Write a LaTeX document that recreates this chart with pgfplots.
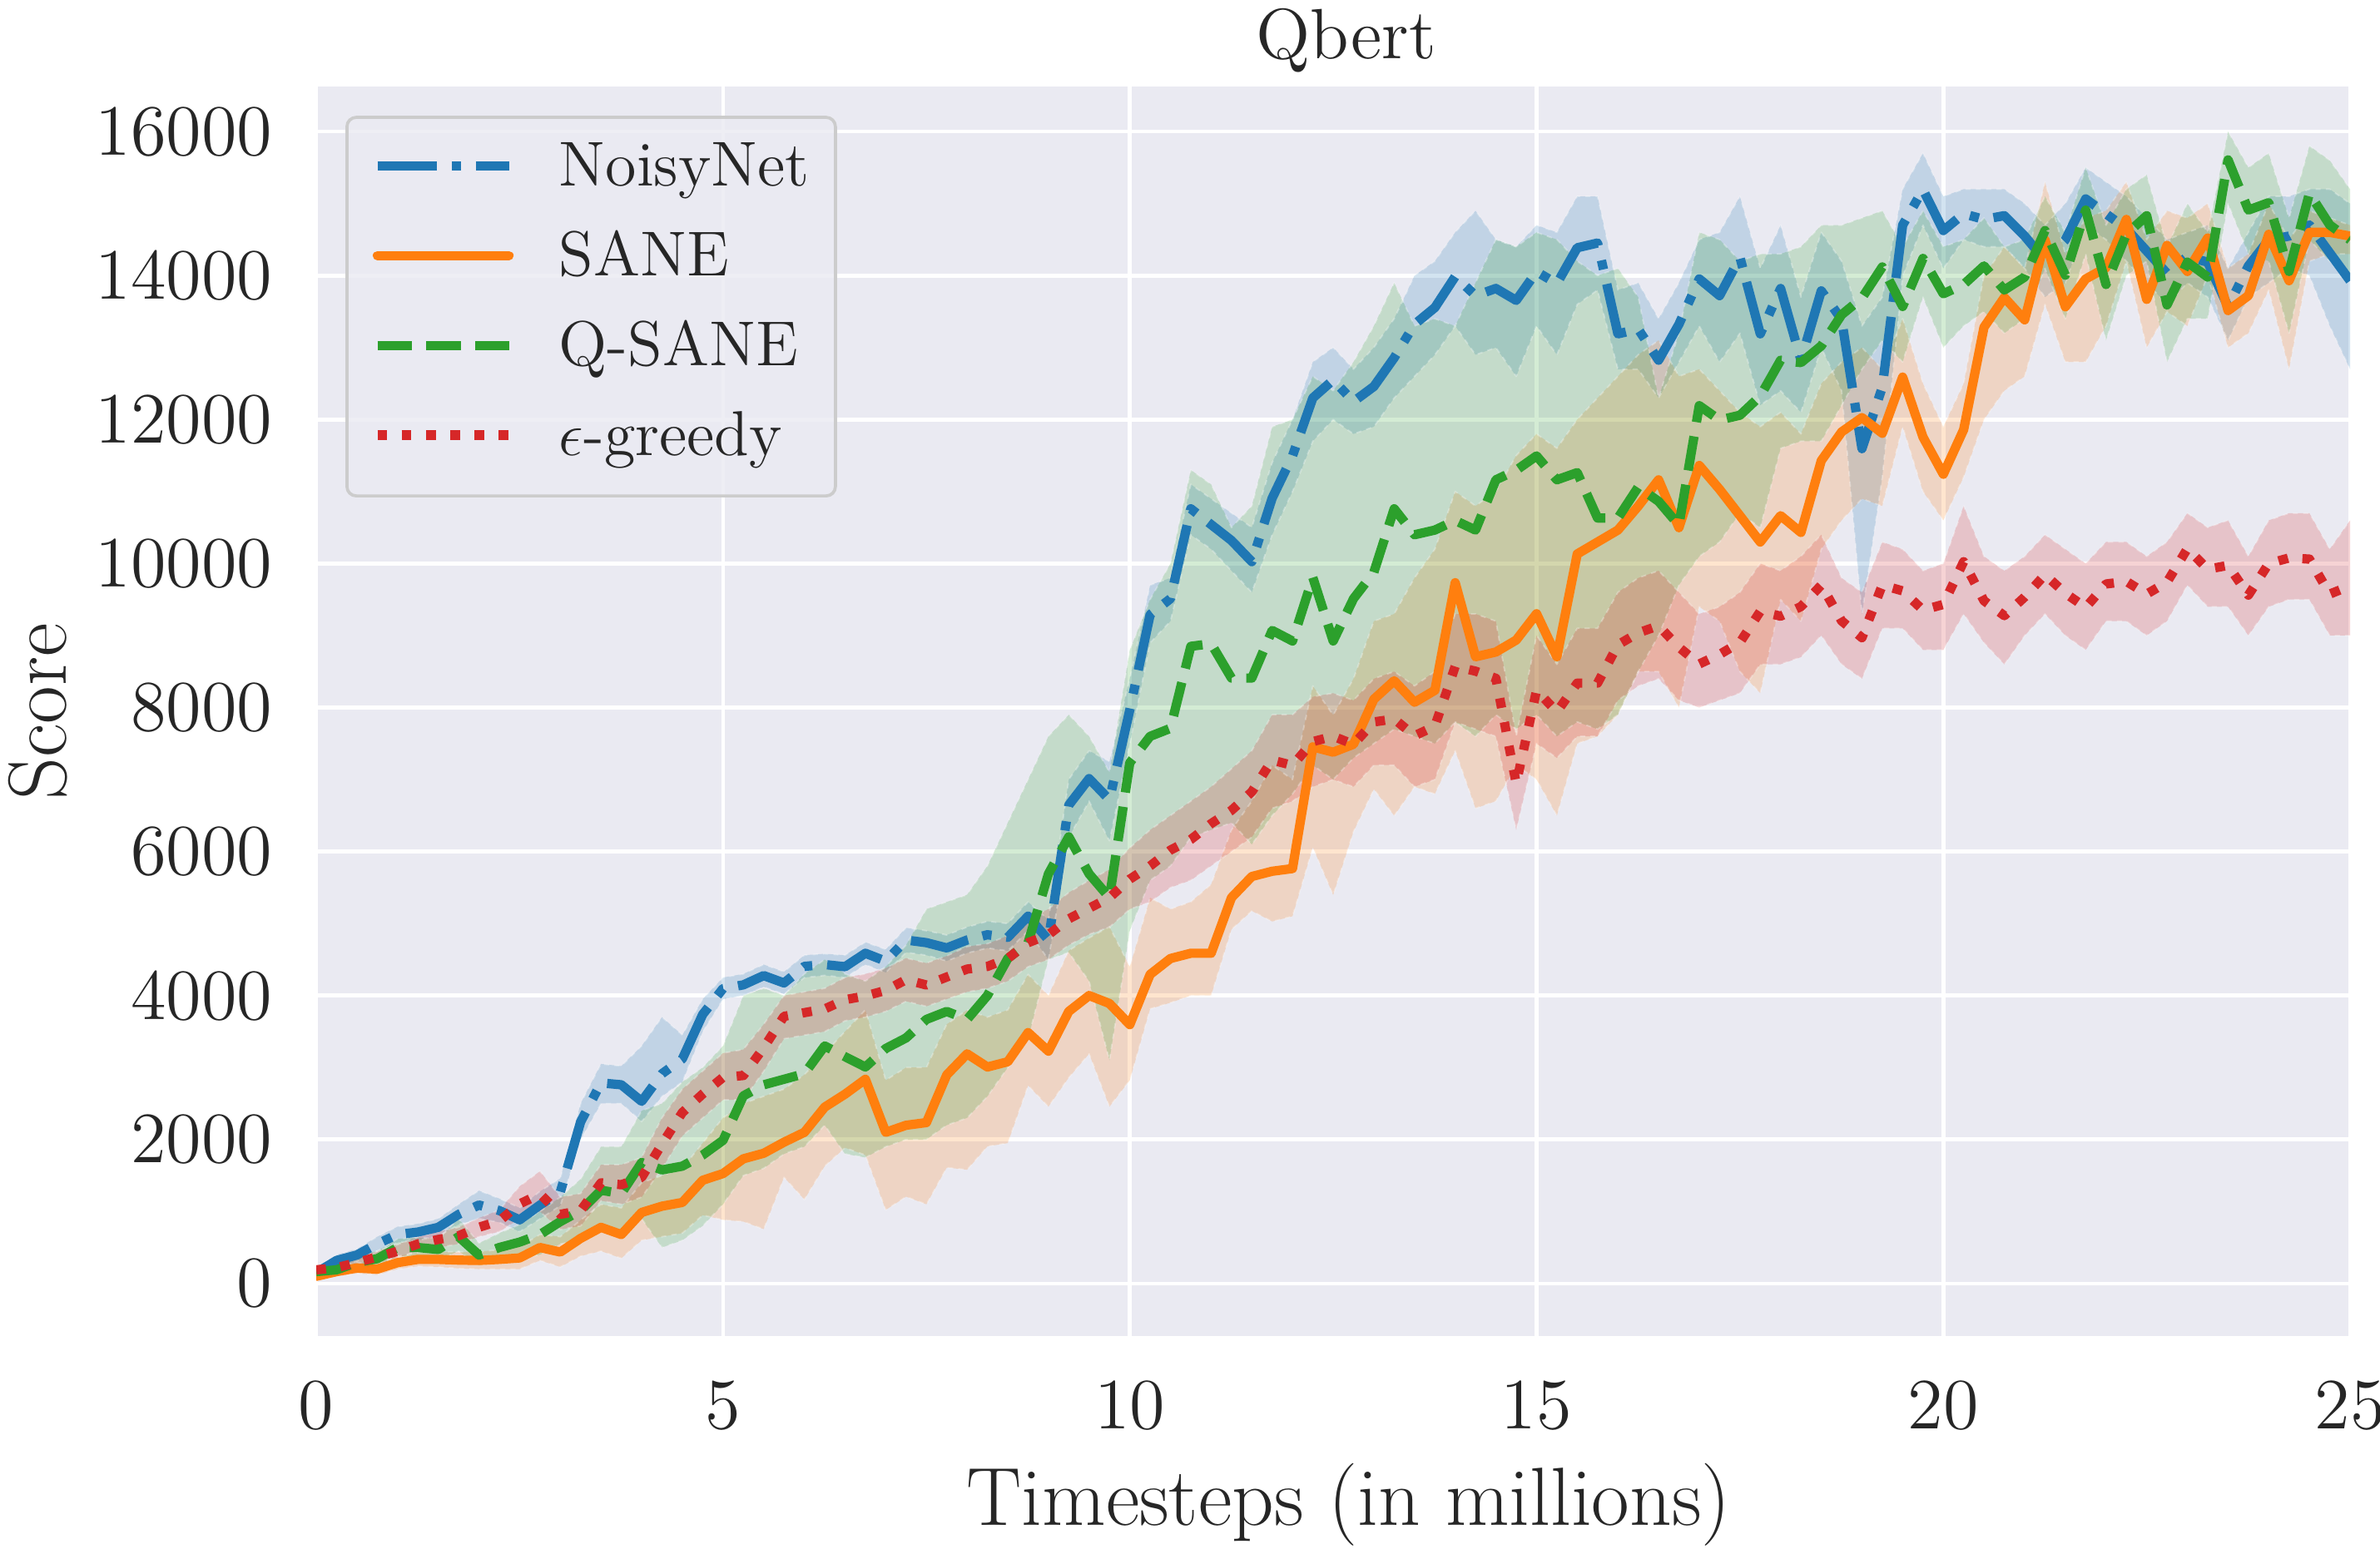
\documentclass[border=0pt]{standalone}
\usepackage{pgfplots}
\pgfplotsset{compat=1.18}
\usepgfplotslibrary{fillbetween}
\usepackage{pgfplotstable}
\definecolor{bg}{HTML}{EAEAF2}
\definecolor{cb}{HTML}{1F77B4}
\definecolor{co}{HTML}{FF7F0E}
\definecolor{cg}{HTML}{2CA02C}
\definecolor{cr}{HTML}{D62728}
\definecolor{txt}{HTML}{262626}
\definecolor{legb}{HTML}{CCCCCC}

\pgfplotstableread{
t m lo hi
0 150 80 220
0.25 320 240 400
0.5 396 310 480
0.75 550 450 650
1 680 570 790
1.25 715 600 830
1.5 780 660 900
1.75 960 820 1100
2 1090 900 1290
2.25 1013 850 1180
2.5 884 720 1050
2.75 1090 900 1280
3 1270 1080 1460
3.25 2246 2000 2500
3.5 2786 2500 3050
3.75 2760 2500 3020
4 2530 2250 3300
4.25 2914 2600 3700
4.5 3120 2800 3450
4.75 3737 3500 3950
5 4097 3950 4250
5.25 4148 4000 4300
5.5 4277 4120 4430
5.75 4174 4020 4330
6 4405 4250 4560
6.25 4430 4280 4580
6.5 4400 4250 4560
6.75 4587 4430 4740
7 4477 4320 4640
7.25 4771 4600 4940
7.5 4734 4560 4900
7.75 4661 4480 4840
8 4771 4590 4950
8.25 4844 4660 5030
8.5 4808 4620 5000
8.75 5102 4900 5300
9 4771 4500 5050
9.25 6645 6200 7000
9.5 7013 6700 7400
9.75 6719 6150 7250
10 7968 7500 8400
10.25 9291 8900 9700
10.5 9512 9200 9800
10.75 10761 10400 11100
11 10541 10200 10900
11.25 10320 9900 10700
11.5 10026 9600 10500
11.75 10908 10400 11400
12 11496 11000 12000
12.25 12300 11700 12800
12.5 12550 12000 13000
12.75 12250 11800 12700
13 12459 11900 13000
13.25 12858 12300 13400
13.5 13323 12600 14000
13.75 13555 12900 14200
14 13987 13300 14600
14.25 13721 12900 14900
14.5 13821 13000 14500
14.75 13655 12600 14400
15 14054 13300 14700
15.25 13888 12900 14600
15.5 14386 13600 15100
15.75 14452 13800 15100
16 13190 12700 13800
16.25 13256 12700 13900
16.5 12824 12300 13400
16.75 13323 12800 13900
17 13954 13300 14500
17.25 13721 12800 14600
17.5 14253 13200 15100
17.75 13190 12200 14100
18 13821 12400 14700
18.25 12824 12100 13700
18.5 13788 13000 14600
18.75 13389 12400 14200
19 11595 9300 13300
19.25 12450 11200 13700
19.5 14700 14000 15200
19.75 15194 14700 15700
20 14625 14100 15100
20.25 14858 14500 15200
20.5 14780 14400 15200
20.75 14832 14400 15200
21 14548 14100 15000
21.25 14212 13700 14700
21.5 14496 13900 15000
21.75 15065 14700 15500
22 14858 14500 15300
22.25 14651 14200 15100
22.5 14341 13900 14800
22.75 14031 13600 14500
23 14264 13900 14600
23.25 14186 13700 14700
23.5 13566 13100 14100
23.75 14134 13700 14600
24 14496 13900 15100
24.25 14548 14100 15100
24.5 14703 14000 15200
24.75 14315 13300 15200
25 13928 12700 15000
}\blueT

\pgfplotstableread{
t m lo hi
0 100 40 160
0.25 165 100 230
0.5 215 140 290
0.75 200 120 280
1 290 200 380
1.25 335 240 430
1.5 335 230 440
1.75 325 210 440
2 320 200 440
2.25 335 200 470
2.5 355 200 510
2.75 500 320 680
3 437 230 650
3.25 627 380 880
3.5 780 450 1100
3.75 680 350 1050
4 987 600 1400
4.25 1074 650 1500
4.5 1126 700 1600
4.75 1434 950 1950
5 1527 884 2300
5.25 1732 860 2500
5.5 1809 755 2600
5.75 1963 1475 2700
6 2100 1167 2900
6.25 2450 1630 3200
6.5 2630 1886 3500
6.75 2837 1784 3800
7 2100 1022 2823
7.25 2198 1206 3000
7.5 2235 1100 3000
7.75 2897 1610 3600
8 3190 1580 3800
8.25 3007 1904 3700
8.5 3080 1950 3800
8.75 3485 2750 4293
9 3227 2456 4000
9.25 3779 2860 4624
9.5 4000 3190 4800
9.75 3889 2456 4955
10 3595 2823 4400
10.25 4293 3815 5359
10.5 4514 3900 5200
10.75 4587 4000 5300
11 4587 4000 5543
11.25 5359 4918 6300
11.5 5653 5175 6700
11.75 5726 5028 7200
12 5763 5101 7000
12.25 7454 6057 8300
12.5 7380 5396 7895
12.75 7490 6278 8400
13 8115 6866 9200
13.25 8372 6498 9300
13.5 8073 6900 9800
13.75 8239 6800 10200
14 9735 7400 11000
14.25 8705 6600 10800
14.5 8771 6700 11000
14.75 8937 7200 11500
15 9303 7000 11800
15.25 8705 6500 11600
15.5 10133 7500 12000
15.75 10299 7600 12300
16 10465 7900 12600
16.25 10797 8500 12900
16.5 11163 8500 13100
16.75 10498 8000 12600
17 11362 9400 12700
17.25 11030 9200 12400
17.5 10665 8500 12100
17.75 10299 8200 11900
18 10665 9500 12100
18.25 10432 9200 11800
18.5 11429 10200 12500
18.75 11828 10600 12800
19 12027 10900 13000
19.25 11809 10800 12700
19.5 12590 11900 13400
19.75 11757 11000 12500
20 11240 10600 11900
20.25 11860 11200 12500
20.5 13282 12000 14000
20.75 13695 12400 14400
21 13385 12600 14100
21.25 14496 13600 15300
21.5 13566 12800 14300
21.75 13953 12800 14800
22 14109 13300 14900
22.25 14780 14200 15300
22.5 13669 13000 14500
22.75 14419 13500 14900
23 14057 13300 14800
23.25 14522 14000 15000
23.5 13514 13000 14100
23.75 13721 13200 14300
24 14574 13800 15000
24.25 13928 12700 14500
24.5 14600 14200 14900
24.75 14600 14300 14800
25 14548 14300 14700
}\orangeT

\pgfplotstableread{
t m lo hi
0 165 100 230
0.25 190 120 260
0.5 293 200 390
0.75 344 240 450
1 500 380 620
1.25 500 370 640
1.5 473 330 620
1.75 650 450 900
2 395 250 560
2.25 500 320 700
2.5 575 350 820
2.75 680 400 1000
3 860 550 1200
3.25 1013 600 1450
3.5 1295 800 1900
3.75 1250 700 1900
4 1680 900 2400
4.25 1578 500 2500
4.5 1630 600 2800
4.75 1784 800 3000
5 1989 1100 3300
5.25 2606 1500 4000
5.5 2760 1600 4100
5.75 2837 1800 4000
6 2914 1900 4300
6.25 3300 2200 4500
6.5 3150 1800 4300
6.75 3007 1750 4200
7 3264 1900 4400
7.25 3411 2000 4700
7.5 3668 2000 5200
7.75 3779 2200 5300
8 3668 2300 5400
8.25 4000 2600 5800
8.5 4514 3000 6400
8.75 4734 3400 7000
9 5690 4500 7600
9.25 6204 4600 7900
9.5 5690 4200 7600
9.75 5359 3100 7100
10 7233 4900 8800
10.25 7600 5600 9500
10.5 7711 5800 10000
10.75 8850 6200 11300
11 8887 6300 11100
11.25 8409 6400 10500
11.5 8409 6100 10800
11.75 9071 6500 11900
12 8924 6800 12000
12.25 9806 7200 12600
12.5 8924 7000 12400
12.75 9512 7300 12800
13 9879 7500 13300
13.25 10761 7700 13900
13.5 10400 7600 13300
13.75 10465 7500 13400
14 10598 7800 13300
14.25 10465 7600 13900
14.5 11163 7900 14500
14.75 11296 7700 14400
15 11495 7900 14600
15.25 11163 7600 14500
15.5 11263 7800 14200
15.75 10632 7700 14000
16 10632 7900 14100
16.25 11063 8500 13700
16.5 10864 9000 12300
16.75 10532 9700 13200
17 12193 10100 14600
17.25 11994 10300 14500
17.5 12060 10700 14200
17.75 12326 10500 14300
18 12824 11600 14300
18.25 12791 11700 14400
18.5 13024 11700 14700
18.75 13456 12200 14700
19 13688 12700 14800
19.25 14120 13100 14900
19.5 13570 12800 14400
19.75 14238 13700 14900
20 13747 13000 14400
20.25 13876 13300 14500
20.5 14134 13500 14800
20.75 13799 13200 14400
21 13979 13400 14500
21.25 14625 14100 15100
21.5 14005 13400 14600
21.75 14910 14300 15500
22 13876 13100 14700
22.25 14574 14000 15200
22.5 14832 14200 15400
22.75 13592 12800 14400
23 14186 13400 15000
23.25 13979 13400 14600
23.5 15607 15000 16000
23.75 14910 14300 15500
24 15013 14200 15700
24.25 14057 13200 14800
24.5 15142 14500 15800
24.75 14703 14200 15600
25 14496 14000 15200
}\greenT

\pgfplotstableread{
t m lo hi
0 190 140 240
0.25 220 160 280
0.5 290 220 360
0.75 370 290 450
1 447 360 540
1.25 550 450 650
1.5 612 500 720
1.75 663 550 780
2 781 650 910
2.25 869 720 1020
2.5 1105 900 1350
2.75 1244 1000 1560
3 961 750 1200
3.25 1013 800 1250
3.5 1398 1150 1650
3.75 1372 1100 1650
4 1475 1200 1750
4.25 1938 1600 2300
4.5 2375 2050 2700
4.75 2632 2300 2950
5 2863 2550 3200
5.25 2889 2550 3250
5.5 3275 2950 3600
5.75 3711 3400 4000
6 3762 3450 4050
6.25 3814 3500 4100
6.5 3942 3650 4250
6.75 3994 3700 4300
7 4071 3780 4380
7.25 4220 3920 4520
7.5 4146 3850 4450
7.75 4257 3950 4550
8 4367 4050 4680
8.25 4404 4100 4720
8.5 4514 4200 4830
8.75 4734 4400 5070
9 4844 4500 5200
9.25 5065 4700 5430
9.5 5212 4850 5600
9.75 5359 4950 5750
10 5616 5200 6050
10.25 5800 5300 6300
10.5 6020 5500 6500
10.75 6167 5600 6700
11 6388 5800 6900
11.25 6572 6000 7150
11.5 6829 6200 7400
11.75 7270 6600 7900
12 7196 6700 7900
12.25 7527 6900 8150
12.5 7600 7000 8200
12.75 7490 6900 8100
13 7800 7200 8400
13.25 7841 7200 8500
13.5 7608 6900 8300
13.75 7741 7000 8500
14 8572 7800 9300
14.25 8505 7700 9300
14.5 8406 7600 9200
14.75 6944 6300 7600
15 8239 7500 9000
15.25 7940 7300 8600
15.5 8339 7600 9100
15.75 8339 7600 9100
16 8871 8100 9600
16.25 9037 8300 9800
16.5 9136 8400 9900
16.75 8837 8100 9600
17 8605 8000 9300
17.25 8738 8100 9400
17.5 8904 8200 9600
17.75 9336 8600 10000
18 9269 8600 9900
18.25 9402 8700 10100
18.5 9701 9000 10400
18.75 9203 8600 9800
19 8970 8400 9600
19.25 9701 9100 10300
19.5 9620 9100 10200
19.75 9354 8800 9900
20 9432 8800 10000
20.25 10026 9300 10800
20.5 9483 8900 10100
20.75 9276 8600 9900
21 9535 9000 10100
21.25 9845 9300 10400
21.5 9587 9000 10200
21.75 9390 8800 10000
22 9716 9200 10300
22.25 9752 9200 10300
22.5 9576 9000 10100
22.75 9742 9200 10300
23 10207 9700 10700
23.25 9922 9400 10500
23.5 9974 9400 10600
23.75 9561 9000 10100
24 10000 9400 10600
24.25 10078 9500 10700
24.5 10062 9500 10700
24.75 9576 9000 10200
25 9690 9000 10600
}\redT

\begin{document}
\begin{tikzpicture}
\begin{axis}[
  name=ax,
  scale only axis,
  width=394.2pt, height=242.3pt,
  xmin=0, xmax=25, ymin=-734, ymax=16624,
  axis background/.style={fill=bg},
  axis line style={draw=none},
  major tick length=0pt,
  tick style={draw=none},
  xtick={0,5,10,15,20,25},
  ytick={0,2000,4000,6000,8000,10000,12000,14000,16000},
  grid=major,
  major grid style={white, line width=0.75pt},
  scaled y ticks=false,
  /pgf/number format/1000 sep={},
  /pgf/number format/assume math mode=true,
  tick label style={font=\fontsize{14}{16}\selectfont, text=txt},
  xticklabel style={anchor=north, inner sep=0pt, yshift=-8.4pt},
  yticklabel style={anchor=east, inner sep=0pt, xshift=-8.3pt},
  xlabel={Timesteps (in millions)},
  xlabel style={at={([xshift=3pt,yshift=-36.6pt]axis description cs:0.5,0)}, anchor=base, inner sep=0pt, font=\fontsize{16}{19}\selectfont, text=txt},
  ylabel={Score},
  ylabel style={at={([xshift=-48.4pt]axis description cs:0,0.5)}, anchor=base, inner sep=0pt, font=\fontsize{16}{19}\selectfont, text=txt},
  title={Qbert},
  title style={at={([xshift=2.5pt]axis description cs:0.5,1)}, anchor=base, yshift=-0.5pt, inner sep=0pt, font=\fontsize{13.8}{16}\selectfont, text=txt},
  legend cell align=left,
  legend image code/.code={\draw[#1] (0pt,1.2pt) -- (25.5pt,1.2pt);},
  legend style={
    at={([xshift=5.65pt,yshift=-5.65pt]axis description cs:0,1)}, anchor=north west,
    draw=legb, line width=0.6pt, fill=bg, fill opacity=0.8, text opacity=1,
    rounded corners=1.8pt,
    font=\fontsize{12.3}{14}\selectfont, text=txt,
    inner xsep=5pt, inner ysep=5pt,
    row sep=6.2pt,
    nodes={inner sep=0pt, text height=8.3pt, text depth=2.9pt},
    /tikz/every odd column/.append style={column sep=8.8pt},
  },
  line join=round,
]
% bands
\addplot[name path=bhi, draw=white, draw opacity=0.3, line width=0.3pt, dash pattern=on 1pt off 1pt, forget plot] table[x=t,y=hi]{\blueT};
\addplot[name path=blo, draw=white, draw opacity=0.3, line width=0.3pt, dash pattern=on 1pt off 1pt, forget plot] table[x=t,y=lo]{\blueT};
\addplot[fill=cb, fill opacity=0.2, draw=none, forget plot] fill between[of=bhi and blo];
\addplot[name path=ohi, draw=white, draw opacity=0.3, line width=0.3pt, dash pattern=on 1pt off 1pt, forget plot] table[x=t,y=hi]{\orangeT};
\addplot[name path=olo, draw=white, draw opacity=0.3, line width=0.3pt, dash pattern=on 1pt off 1pt, forget plot] table[x=t,y=lo]{\orangeT};
\addplot[fill=co, fill opacity=0.2, draw=none, forget plot] fill between[of=ohi and olo];
\addplot[name path=ghi, draw=white, draw opacity=0.3, line width=0.3pt, dash pattern=on 1pt off 1pt, forget plot] table[x=t,y=hi]{\greenT};
\addplot[name path=glo, draw=white, draw opacity=0.3, line width=0.3pt, dash pattern=on 1pt off 1pt, forget plot] table[x=t,y=lo]{\greenT};
\addplot[fill=cg, fill opacity=0.2, draw=none, forget plot] fill between[of=ghi and glo];
\addplot[name path=rhi, draw=white, draw opacity=0.3, line width=0.3pt, dash pattern=on 1pt off 1pt, forget plot] table[x=t,y=hi]{\redT};
\addplot[name path=rlo, draw=white, draw opacity=0.3, line width=0.3pt, dash pattern=on 1pt off 1pt, forget plot] table[x=t,y=lo]{\redT};
\addplot[fill=cr, fill opacity=0.2, draw=none, forget plot] fill between[of=rhi and rlo];
% means
\addplot[cb, line width=1.8pt, no marks, dash pattern=on 11.5pt off 2.9pt on 1.8pt off 2.9pt] table[x=t,y=m]{\blueT};
\addlegendentry{NoisyNet}
\addplot[co, line width=1.8pt, no marks, line cap=round] table[x=t,y=m]{\orangeT};
\addlegendentry{SANE}
\addplot[cg, line width=1.8pt, no marks, dash pattern=on 6.7pt off 2.8pt] table[x=t,y=m]{\greenT};
\addlegendentry{Q-SANE}
\addplot[cr, line width=1.8pt, no marks, dash pattern=on 1.9pt off 2.8pt] table[x=t,y=m]{\redT};
\addlegendentry{$\epsilon$-greedy}
\end{axis}
\pgfresetboundingbox
\path[use as bounding box] ([xshift=-61.3pt,yshift=-41.1pt]ax.south west) rectangle ([xshift=5.8pt,yshift=16.8pt]ax.north east);
\end{tikzpicture}
\end{document}
